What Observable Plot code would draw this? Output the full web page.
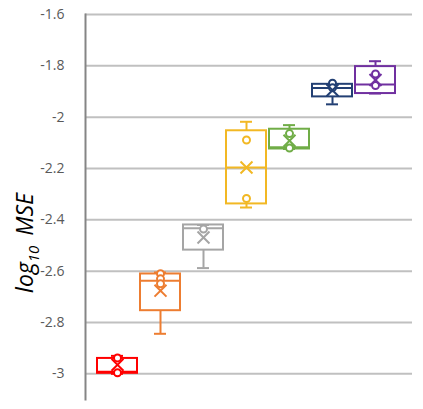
<!DOCTYPE html>
<html>
<head>
<meta charset="utf-8">
<script src="https://cdn.jsdelivr.net/npm/d3@7"></script>
<script src="https://cdn.jsdelivr.net/npm/@observablehq/plot@0.6"></script>
<style>
  html, body { margin: 0; padding: 0; background: #fff; }
  #chart { width: 423px; height: 409px; }
</style>
</head>
<body>
<div id="chart"></div>
<script>
const categories = ["S1", "S2", "S3", "S4", "S5", "S6", "S7"];
const colors = ["#FF0000", "#ED7D31", "#A5A5A5", "#F2B824", "#70AD47", "#223F73", "#7030A0"];
const mins    = [-3.000, -2.844, -2.588, -2.352, -2.124, -1.950, -1.908];
const q1s     = [-2.998, -2.754, -2.518, -2.338, -2.124, -1.921, -1.908];
const medians = [-2.992, -2.637, -2.433, -2.196, -2.117, -1.886, -1.873];
const q3s     = [-2.940, -2.611, -2.420, -2.053, -2.047, -1.872, -1.803];
const maxs    = [-2.930, -2.605, -2.420, -2.018, -2.031, -1.872, -1.782];
const means   = [-2.965, -2.676, -2.469, -2.196, -2.092, -1.895, -1.855];
const innerPoints = [
  [-2.938, -2.996],
  [-2.610, -2.630, -2.649],
  [-2.436],
  [-2.089, -2.317],
  [-2.064, -2.120],
  [-1.868, -1.885],
  [-1.832, -1.877]
];
const yTicks = [-1.6, -1.8, -2, -2.2, -2.4, -2.6, -2.8, -3];
const yTickLabels = ["-1.6", "-1.8", "-2", "-2.2", "-2.4", "-2.6", "-2.8", "-3"];

const boxes = categories.map((c, i) => ({
  cat: c, min: mins[i], q1: q1s[i], median: medians[i], q3: q3s[i], max: maxs[i], mean: means[i]
}));
const pts = categories.flatMap((c, i) => innerPoints[i].map(v => ({cat: c, v})));

const sw = 2;
const plot = Plot.plot({
  width: 423,
  height: 409,
  marginLeft: 85,
  marginRight: 11,
  marginTop: 14,
  marginBottom: 10,
  style: {fontFamily: "'Open Sans', sans-serif", fontSize: "14px", background: "white"},
  x: {domain: categories, range: [97, 395], paddingInner: 0.07, paddingOuter: 0, axis: null},
  y: {domain: [-3.1, -1.6], axis: null},
  color: {domain: categories, range: colors},
  marks: [
    Plot.ruleY(yTicks, {stroke: "#C0C0C0", strokeWidth: 2}),
    Plot.frame({anchor: "left", stroke: "#858585", strokeWidth: 2}),
    Plot.axisY(yTicks, {tickSize: 0, tickPadding: 21, tickFormat: (d) => yTickLabels[yTicks.indexOf(d)], fill: "#595959", fontSize: 14}),
    Plot.ruleX(boxes, {x: "cat", y1: "q3", y2: "max", stroke: "cat", strokeWidth: sw}),
    Plot.ruleX(boxes, {x: "cat", y1: "min", y2: "q1", stroke: "cat", strokeWidth: sw}),
    Plot.tickY(boxes, {x: "cat", y: "max", stroke: "cat", strokeWidth: sw, insetLeft: 14, insetRight: 14}),
    Plot.tickY(boxes, {x: "cat", y: "min", stroke: "cat", strokeWidth: sw, insetLeft: 14, insetRight: 14}),
    Plot.barY(boxes, {x: "cat", y1: "q1", y2: "q3", fill: "white", fillOpacity: 0, stroke: "cat", strokeWidth: sw}),
    Plot.tickY(boxes, {x: "cat", y: "median", stroke: "cat", strokeWidth: sw}),
    Plot.dot(pts, {x: "cat", y: "v", r: 3.5, stroke: "cat", fill: "white", strokeWidth: sw}),
    Plot.dot(boxes, {x: "cat", y: "mean", symbol: "times", r: 5.5, stroke: "cat", strokeWidth: sw})
  ]
});

const svg = d3.select(plot);
const lab = svg.append("text")
  .attr("transform", "translate(33,243) rotate(-90)")
  .attr("text-anchor", "middle")
  .attr("font-family", "'Open Sans', sans-serif")
  .attr("font-style", "italic")
  .attr("font-size", 23)
  .attr("fill", "#000");
lab.append("tspan").text("log");
lab.append("tspan").attr("font-size", 15).attr("dy", 6).text("10");
lab.append("tspan").attr("dy", -6).text("\u2009 MSE");

document.getElementById("chart").appendChild(plot);
</script>
</body>
</html>
